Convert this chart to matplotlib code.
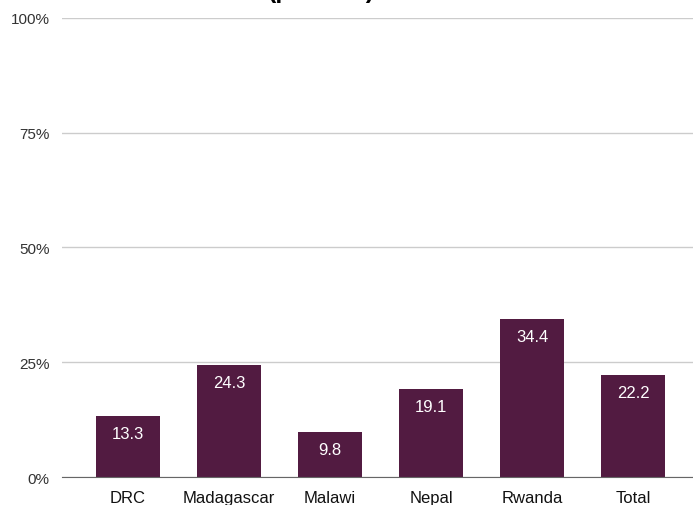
import matplotlib.pyplot as plt

countries = ["DRC", "Madagascar", "Malawi", "Nepal", "Rwanda", "Total"]
percent = [13.3, 24.3, 9.8, 19.1, 34.4, 22.2]
y_ticks = [0, 25, 50, 75, 100]
y_labels = ["0%", "25%", "50%", "75%", "100%"]

plt.rcParams['font.family'] = ['Liberation Sans', 'DejaVu Sans']

fig = plt.figure(figsize=(6.93, 5.06), dpi=100)
ax = fig.add_axes([0.0895, 0.0553, 0.9105, 0.9072])

x = range(len(countries))
bars = ax.bar(x, percent, width=0.635, color='#521b41', zorder=3)

# value labels inside the top of each bar
for bar, v in zip(bars, percent):
    ax.annotate(f"{v:.1f}", (bar.get_x() + bar.get_width() / 2, v),
                xytext=(0, -12.5), textcoords='offset points',
                ha='center', va='center', color='white', fontsize=12)

ax.set_xlim(-0.653, 5.59)
ax.set_ylim(0, 100)
ax.set_yticks(y_ticks)
ax.set_yticklabels(y_labels, fontsize=11, color='#333333')
ax.set_xticks(list(x))
ax.set_xticklabels(countries, fontsize=12, color='#111111')
ax.tick_params(axis='both', length=0)
ax.tick_params(axis='y', pad=9)
ax.tick_params(axis='x', pad=9)

ax.grid(axis='y', color='#cccccc', linewidth=1, zorder=0)
for side in ['top', 'right', 'left']:
    ax.spines[side].set_visible(False)
ax.spines['bottom'].set_color('#666666')
ax.spines['bottom'].set_zorder(4)

# title sits above the canvas, only its descenders show
fig.text(0.464, 1 + 1.5 / 506, "(percent)", ha='center', va='baseline',
         fontsize=18, fontweight='bold', color='black')

fig.savefig('out.png', dpi=100)
